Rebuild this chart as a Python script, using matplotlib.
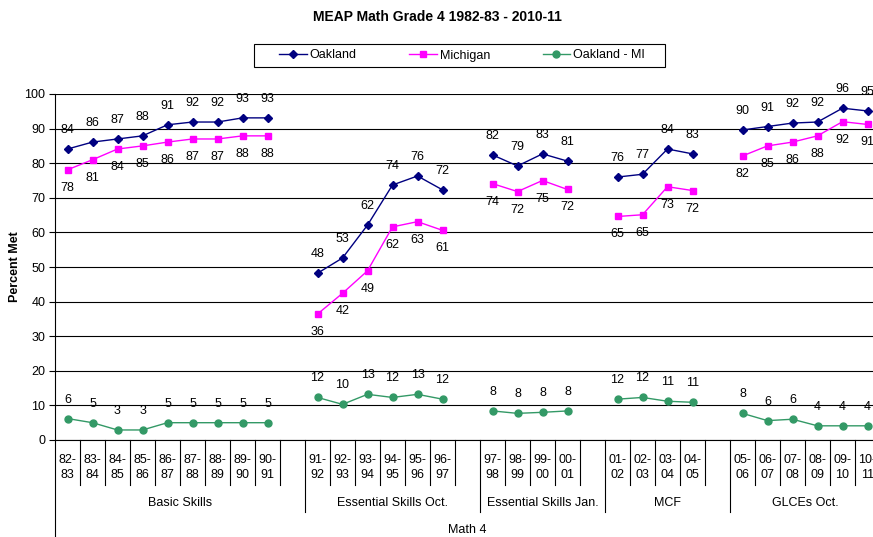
import matplotlib
matplotlib.use("Agg")
import matplotlib.pyplot as plt
import matplotlib.transforms as mtransforms
from matplotlib.patches import Rectangle

plt.rcParams['font.family'] = ['Liberation Sans', 'DejaVu Sans']

# data, one list per test group (a blank category follows every group but the last)
groups = ["Basic Skills", "Essential Skills Oct.", "Essential Skills Jan.", "MCF", "GLCEs Oct."]
years = [
    ["82-83", "83-84", "84-85", "85-86", "86-87", "87-88", "88-89", "89-90", "90-91"],
    ["91-92", "92-93", "93-94", "94-95", "95-96", "96-97"],
    ["97-98", "98-99", "99-00", "00-01"],
    ["01-02", "02-03", "03-04", "04-05"],
    ["05-06", "06-07", "07-08", "08-09", "09-10", "10-11"],
]
oakland = [
    [84.1, 86.1, 87.0, 87.9, 91.1, 91.9, 91.9, 93.1, 93.1],
    [48.2, 52.6, 62.1, 73.7, 76.3, 72.3],
    [82.4, 79.2, 82.7, 80.6],
    [76.0, 76.8, 84.1, 82.7],
    [89.6, 90.6, 91.6, 91.9, 95.9, 95.1],
]
michigan = [
    [78.1, 81.0, 84.1, 85.0, 86.1, 87.0, 87.0, 87.9, 87.9],
    [36.4, 42.4, 48.9, 61.6, 63.1, 60.6],
    [74.1, 71.8, 75.0, 72.4],
    [64.6, 65.1, 73.2, 72.1],
    [82.1, 85.0, 86.1, 87.9, 92.0, 91.2],
]
diff = [
    [6.2, 5.0, 2.9, 2.9, 5.0, 5.0, 5.0, 5.0, 5.0],
    [12.3, 10.3, 13.2, 12.3, 13.2, 11.8],
    [8.4, 7.7, 8.0, 8.4],
    [11.8, 12.3, 11.2, 10.9],
    [7.7, 5.6, 6.0, 4.1, 4.1, 4.1],
]

W, H = 873, 537
FS = 9
fig = plt.figure(figsize=(W / 100, H / 100), dpi=100)
# plot area in pixels: x 55..880, y 94..440
ax = fig.add_axes([55 / W, 1 - 440 / H, 825 / W, 346 / H])

def fy(py):
    # pixel row below the axis -> axes fraction
    return -(py - 440) / 346.0

series = [
    ("Oakland", oakland, "#000080", "D", 4.5, 19),
    ("Michigan", michigan, "#FF00FF", "s", 5, -18),
    ("Oakland - MI", diff, "#339966", "o", 5, 19),
]

# slot positions
starts = []
pos = 0
for g, yr in enumerate(years):
    starts.append(pos)
    pos += len(yr) + (1 if g < len(years) - 1 else 0)
nslots = pos

handles = []
for name, vals, col, mk, ms, off in series:
    for g, yr in enumerate(years):
        xs = [starts[g] + i for i in range(len(yr))]
        ln, = ax.plot(xs, vals[g], color=col, marker=mk, markersize=ms, lw=1,
                      markeredgecolor=col, label=name if g == 0 else None)
        if g == 0:
            handles.append(ln)
        for x, v in zip(xs, vals[g]):
            ax.annotate(f"{v:.0f}", (x, v), xytext=(0, off), textcoords='offset pixels',
                        ha='center', va='center', fontsize=FS)

ax.set_xlim(-0.5, nslots - 0.5)
ax.set_ylim(0, 100)
ax.set_yticks(range(0, 101, 10))
ax.tick_params(axis='y', labelsize=FS, length=4, width=0.8, pad=3)
ax.set_xticks([])
ax.grid(axis='y', color='black', lw=0.8)
ax.set_axisbelow(True)
for s in ['top', 'right']:
    ax.spines[s].set_visible(False)
ax.spines['left'].set_linewidth(0.8)
ax.spines['bottom'].set_linewidth(0.8)

# multi-level category axis
tr = mtransforms.blended_transform_factory(ax.transData, ax.transAxes)
for g, yr in enumerate(years):
    s = starts[g]
    n = len(yr) + (1 if g < len(years) - 1 else 0)
    for i, y in enumerate(yr):
        ax.text(s + i, fy(467.5), y.replace('-', '-\n'), transform=tr, ha='center',
                va='center', fontsize=FS, linespacing=1.4)
    for b in range(1, n):
        ax.plot([s + b - 0.5] * 2, [0, fy(485)], transform=tr, color='black',
                lw=0.8, clip_on=False)
    ax.plot([s + n - 0.5] * 2, [0, fy(512)], transform=tr, color='black',
            lw=0.8, clip_on=False)
    ax.text(s + (n - 1) / 2, fy(503), groups[g], transform=tr, ha='center',
            va='center', fontsize=FS)
ax.plot([-0.5, -0.5], [0, fy(540)], transform=tr, color='black', lw=0.8, clip_on=False)
ax.text((nslots - 1) / 2, fy(530), "Math 4", transform=tr, ha='center', va='center',
        fontsize=FS)

fig.text(437 / W, 1 - 17 / H, "MEAP Math Grade 4 1982-83 - 2010-11", ha='center',
         va='center', fontsize=10, fontweight='bold')
fig.text(15 / W, 1 - 267 / H, "Percent Met", rotation=90, ha='center', va='center',
         fontsize=FS, fontweight='bold')

# legend box drawn by hand, entries centred inside it
fig.patches.append(Rectangle((254 / W, 1 - 67 / H), 411 / W, 23 / H, transform=fig.transFigure,
                             fill=False, edgecolor='black', lw=0.8))
leg = fig.legend(handles=handles, loc='center', ncol=3,
                 bbox_to_anchor=(462 / W, 1 - 55.5 / H),
                 fontsize=FS, frameon=False, handlelength=2.2,
                 columnspacing=4.2, handletextpad=0.25, borderpad=0, borderaxespad=0)

fig.savefig("out.png", dpi=100)
